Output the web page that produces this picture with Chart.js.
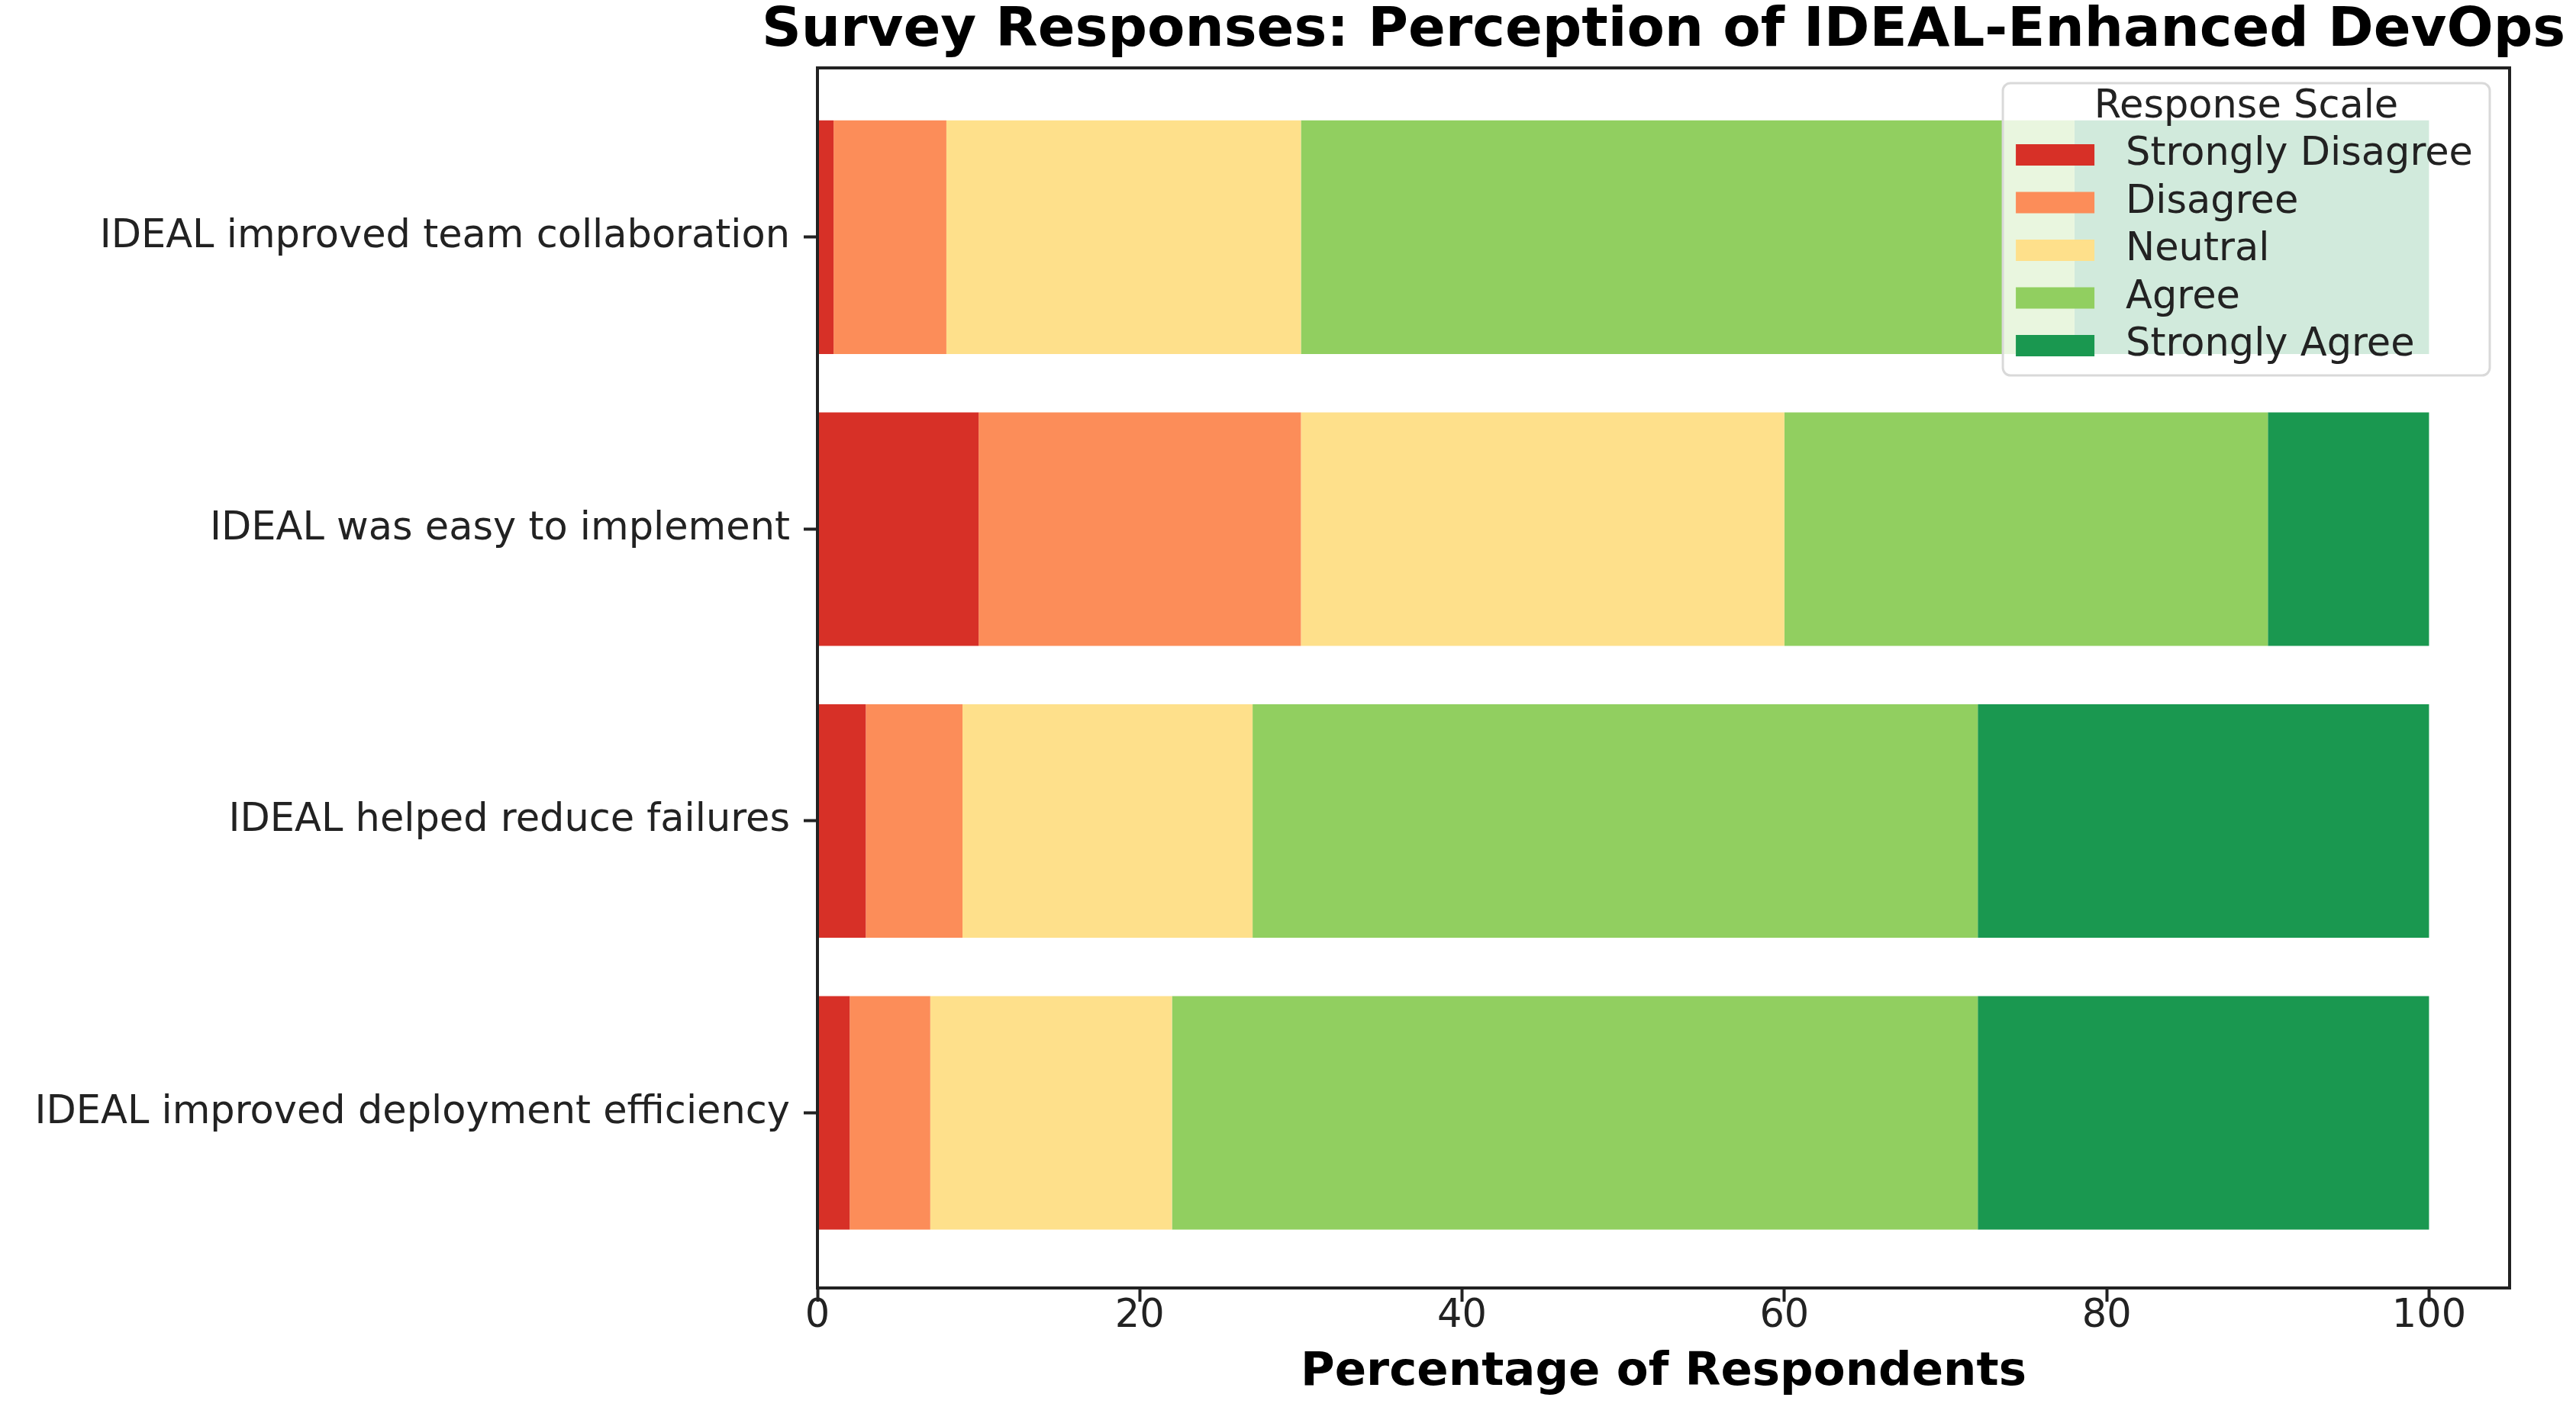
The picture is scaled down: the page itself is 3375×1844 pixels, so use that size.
<!DOCTYPE html>
<html>
<head>
<meta charset="utf-8">
<script src="https://cdn.jsdelivr.net/npm/chart.js@4.4.0/dist/chart.umd.min.js"></script>
<style>
  html, body { margin: 0; padding: 0; background: #fff; }
  #wrap { width: 3375px; height: 1844px; }
</style>
</head>
<body>
<div id="wrap"><canvas id="surveyChart"></canvas></div>
<script>
// statements, bottom row first (same order as barh)
const statements = [
  "IDEAL improved deployment efficiency",
  "IDEAL helped reduce failures",
  "IDEAL was easy to implement",
  "IDEAL improved team collaboration",
];
const responseScale = ["Strongly Disagree", "Disagree", "Neutral", "Agree", "Strongly Agree"];
const scaleColors = ["#d73027", "#fc8d59", "#fee08b", "#91cf60", "#1a9850"];

// percent of respondents, one value per statement
const stronglyDisagree = [2, 3, 10, 1];
const disagree = [5, 6, 20, 7];
const neutral = [15, 18, 30, 22];
const agree = [50, 45, 30, 48];
const stronglyAgree = [28, 28, 10, 22];
const seriesValues = [stronglyDisagree, disagree, neutral, agree, stronglyAgree];

const xTicks = [0, 20, 40, 60, 80, 100];

const FONT = "DejaVu Sans";
const INK = "#222";

// title, full frame and the legend box drawn over the bars
const overlay = {
  id: "overlay",
  afterDraw(chart) {
    const { ctx, chartArea: a } = chart;
    ctx.save();

    // frame (all four spines)
    ctx.strokeStyle = INK;
    ctx.lineWidth = 4;
    ctx.strokeRect(a.left, a.top, a.right - a.left, a.bottom - a.top);

    // title
    ctx.fillStyle = "#000";
    ctx.font = `bold 72px "${FONT}"`;
    ctx.textAlign = "center";
    ctx.textBaseline = "middle";
    ctx.fillText("Survey Responses: Perception of IDEAL-Enhanced DevOps", (a.left + a.right) / 2, 41);

    // legend
    ctx.font = `51px "${FONT}"`;
    const textW = Math.max(...responseScale.map((t) => ctx.measureText(t).width));
    const boxW = 17 + 103 + 41 + textW + 22;
    const boxH = 383;
    const bx = a.right - 26 - boxW;
    const by = a.top + 20;
    ctx.beginPath();
    ctx.roundRect(bx, by, boxW, boxH, 10);
    ctx.fillStyle = "rgba(255,255,255,0.8)";
    ctx.fill();
    ctx.strokeStyle = "#d9d9d9";
    ctx.lineWidth = 3;
    ctx.stroke();

    ctx.fillStyle = INK;
    ctx.textAlign = "center";
    ctx.fillText("Response Scale", bx + boxW / 2, by + 32);

    ctx.textAlign = "left";
    responseScale.forEach((label, i) => {
      const cy = by + 94 + i * 62.5;
      ctx.fillStyle = scaleColors[i];
      ctx.fillRect(bx + 17, cy - 14, 103, 28);
      ctx.fillStyle = INK;
      ctx.fillText(label, bx + 17 + 103 + 41, cy);
    });

    ctx.restore();
  },
};

const ctx = document.getElementById("surveyChart").getContext("2d");
const chart = new Chart(ctx, {
  type: "bar",
  data: {
    datasets: seriesValues.map((vals, i) => ({
      label: responseScale[i],
      data: vals.map((v, j) => ({ x: v, y: j })),
      backgroundColor: scaleColors[i],
      borderWidth: 0,
      barPercentage: 0.8,
      categoryPercentage: 1,
    })),
  },
  options: {
    indexAxis: "y",
    responsive: true,
    maintainAspectRatio: false,
    animation: false,
    devicePixelRatio: 1,
    layout: { padding: { top: 89, right: 87, left: 0, bottom: 0 } },
    plugins: {
      legend: { display: false },
      title: { display: false },
      tooltip: { enabled: false },
    },
    scales: {
      x: {
        type: "linear",
        stacked: true,
        min: 0,
        max: 105,
        afterBuildTicks: (s) => {
          s.ticks = xTicks.map((v) => ({ value: v }));
        },
        afterFit: (s) => {
          s.height = 156;
        },
        grid: { drawOnChartArea: false, drawTicks: true, tickLength: 18, tickWidth: 4, tickColor: INK },
        border: { display: true, color: INK, width: 4 },
        ticks: { font: { family: FONT, size: 51 }, color: INK, padding: -11 },
        title: {
          display: true,
          text: "Percentage of Respondents",
          font: { family: FONT, size: 61, weight: "bold" },
          color: "#000",
          padding: { top: 0, bottom: 8 },
        },
      },
      y: {
        type: "linear",
        stacked: true,
        offset: false,
        min: -0.6,
        max: 3.58,
        afterBuildTicks: (s) => {
          s.ticks = statements.map((_, i) => ({ value: i }));
        },
        afterFit: (s) => {
          s.width = 1071;
        },
        grid: { offset: false, drawOnChartArea: false, drawTicks: true, tickLength: 18, tickWidth: 4, tickColor: INK },
        border: { display: true, color: INK, width: 4 },
        ticks: {
          font: { family: FONT, size: 51 },
          color: INK,
          padding: 18,
          callback: (v) => statements[v],
        },
      },
    },
  },
  plugins: [overlay],
});
</script>
</body>
</html>
